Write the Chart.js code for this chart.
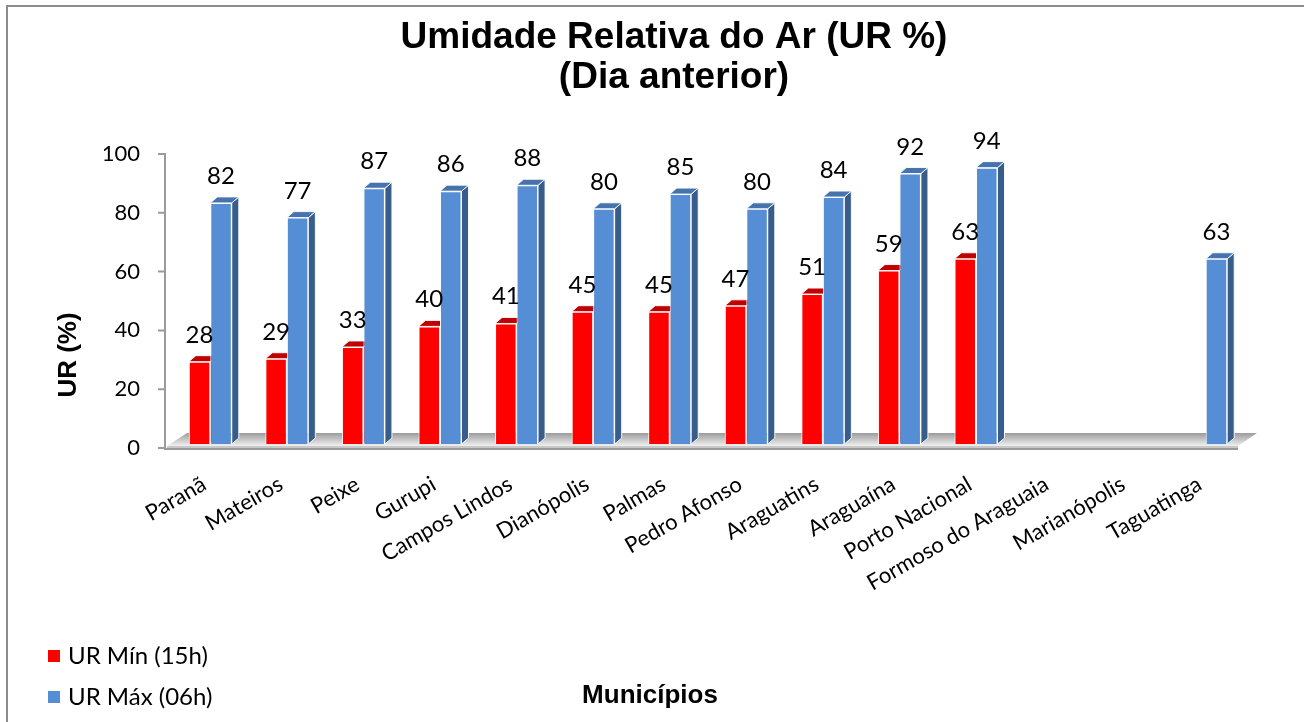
<!DOCTYPE html>
<html lang="pt-BR">
<head>
<meta charset="utf-8">
<title>Umidade Relativa do Ar</title>
<script src="https://cdn.jsdelivr.net/npm/chart.js@4.4.1/dist/chart.umd.min.js"></script>
<style>
  html, body { margin: 0; padding: 0; background: #fff; }
  #grafico { display: block; }
</style>
</head>
<body>
<canvas id="grafico" width="1304" height="722"></canvas>
<script>
// Dados do gráfico
const municipios = ['Paranã', 'Mateiros', 'Peixe', 'Gurupi', 'Campos Lindos', 'Dianópolis', 'Palmas',
    'Pedro Afonso', 'Araguatins', 'Araguaína', 'Porto Nacional', 'Formoso do Araguaia', 'Marianópolis', 'Taguatinga'];
const urMin = [28, 29, 33, 40, 41, 45, 45, 47, 51, 59, 63, null, null, null];
const urMax = [82, 77, 87, 86, 88, 80, 85, 80, 84, 92, 94, null, null, 63];
const ticksY = [0, 20, 40, 60, 80, 100];

// Cores e profundidade do efeito 3D
const corBorda = '#8c8c8c';
const corEixo = '#9a9a9a';
const prof = { dx: 7, dy: 6 };
const fonteTexto = 'Lato, "Open Sans", sans-serif';
const fonteTitulo = '"Liberation Sans", Arial, sans-serif';

const efeito3D = {
    id: 'efeito3D',
    beforeDraw(chart) {
        const ctx = chart.ctx;
        ctx.save();
        ctx.fillStyle = '#fff';
        ctx.fillRect(0, 0, chart.width, chart.height);
        // moldura (só esquerda e topo aparecem)
        ctx.fillStyle = corBorda;
        ctx.fillRect(6, 5, 2, chart.height);
        ctx.fillRect(6, 5, chart.width, 2);
        ctx.restore();
    },
    beforeDatasetsDraw(chart) {
        const { ctx, chartArea: a, scales } = chart;
        const L = a.left, R = a.right, B = a.bottom;
        ctx.save();

        // piso
        const g = ctx.createLinearGradient(0, B - 11, 0, B + 2);
        g.addColorStop(0, '#9c9c9c');
        g.addColorStop(1, '#f0f0f0');
        ctx.fillStyle = g;
        ctx.beginPath();
        ctx.moveTo(L - 5, B + 2);
        ctx.lineTo(R - 6, B + 2);
        ctx.lineTo(R + 13, B - 11);
        ctx.lineTo(L + 15, B - 11);
        ctx.closePath();
        ctx.fill();
        ctx.fillStyle = '#c8c8c8';
        ctx.fillRect(L - 5, B + 2, R - L - 1, 3);

        // eixos
        ctx.strokeStyle = corEixo;
        ctx.lineWidth = 2;
        ctx.beginPath();
        ctx.moveTo(L - 7, scales.y.getPixelForValue(100) + 3);
        ctx.lineTo(L - 7, B + 5);
        ctx.lineTo(R - 6, B + 5);
        ticksY.forEach(v => {
            const py = scales.y.getPixelForValue(v) + 4;
            ctx.moveTo(L - 14, py);
            ctx.lineTo(L - 7, py);
        });
        ctx.stroke();

        // topo e lateral das barras
        ctx.strokeStyle = 'rgba(255,255,255,0.9)';
        ctx.lineWidth = 1;
        chart.data.datasets.forEach((ds, i) => {
            chart.getDatasetMeta(i).data.forEach((bar, j) => {
                if (ds.data[j] == null) return;
                const x0 = bar.x - bar.width / 2, x1 = bar.x + bar.width / 2;
                const t = bar.y, b = bar.base;
                ctx.fillStyle = ds.corLado;
                ctx.beginPath();
                ctx.moveTo(x1, t);
                ctx.lineTo(x1 + prof.dx, t - prof.dy);
                ctx.lineTo(x1 + prof.dx, b - prof.dy);
                ctx.lineTo(x1, b);
                ctx.closePath();
                ctx.fill();
                ctx.stroke();
                ctx.fillStyle = ds.corTopo;
                ctx.beginPath();
                ctx.moveTo(x0, t);
                ctx.lineTo(x1, t);
                ctx.lineTo(x1 + prof.dx, t - prof.dy);
                ctx.lineTo(x0 + prof.dx, t - prof.dy);
                ctx.closePath();
                ctx.fill();
                ctx.stroke();
            });
        });
        ctx.restore();
    },
    afterDatasetsDraw(chart) {
        const ctx = chart.ctx;
        ctx.save();
        ctx.font = '24px ' + fonteTexto;
        ctx.fillStyle = '#000';
        ctx.textAlign = 'center';
        ctx.textBaseline = 'alphabetic';
        chart.data.datasets.forEach((ds, i) => {
            chart.getDatasetMeta(i).data.forEach((bar, j) => {
                const v = ds.data[j];
                if (v == null) return;
                ctx.fillText(String(v), bar.x, bar.y - 19);
            });
        });
        ctx.restore();
    },
    afterDraw(chart) {
        const ctx = chart.ctx;
        ctx.save();
        // legenda
        ctx.font = '24px ' + fonteTexto;
        ctx.textAlign = 'left';
        ctx.textBaseline = 'middle';
        chart.data.datasets.forEach((ds, i) => {
            const cy = 656 + i * 41;
            ctx.fillStyle = ds.backgroundColor;
            ctx.fillRect(48, cy - 6, 12, 12);
            ctx.fillStyle = '#000';
            ctx.fillText(ds.label, 68, cy);
        });
        // títulos dos eixos
        ctx.font = 'bold 26px ' + fonteTitulo;
        ctx.textAlign = 'center';
        ctx.textBaseline = 'alphabetic';
        ctx.fillText('Municípios', 650, 703);
        ctx.translate(69, 355);
        ctx.rotate(-Math.PI / 2);
        ctx.textBaseline = 'middle';
        ctx.fillText('UR (%)', 0, 0);
        ctx.restore();
    }
};

const ctx = document.getElementById('grafico').getContext('2d');
const grafico = new Chart(ctx, {
    type: 'bar',
    data: {
        labels: municipios,
        datasets: [
            {
                label: 'UR Mín (15h)',
                data: urMin,
                backgroundColor: '#FF0000',
                borderColor: '#FFFFFF',
                borderWidth: 1,
                corTopo: '#C00000',
                corLado: '#A00000'
            },
            {
                label: 'UR Máx (06h)',
                data: urMax,
                backgroundColor: '#558ED5',
                borderColor: '#FFFFFF',
                borderWidth: 1,
                corTopo: '#4672AE',
                corLado: '#385D8A'
            }
        ]
    },
    options: {
        responsive: false,
        animation: false,
        events: [],
        layout: { padding: { left: 104, right: 60, top: 0, bottom: 118 } },
        datasets: {
            bar: { categoryPercentage: 0.5616, barPercentage: 1 }
        },
        plugins: {
            legend: { display: false },
            tooltip: { enabled: false },
            title: {
                display: true,
                text: ['Umidade Relativa do Ar (UR %)', '(Dia anterior)'],
                color: '#000',
                font: { family: fonteTitulo, size: 37, weight: 'bold', lineHeight: 40 / 37 },
                padding: { top: 18, bottom: 52 }
            }
        },
        scales: {
            x: {
                grid: { display: false, drawTicks: false },
                border: { display: false },
                ticks: {
                    autoSkip: false,
                    minRotation: 30,
                    maxRotation: 30,
                    padding: 27,
                    labelOffset: -6,
                    color: '#000',
                    font: { family: fonteTexto, size: 22 }
                },
                afterFit(scale) { scale.height = 160; }
            },
            y: {
                min: 0,
                max: 100,
                grid: { display: false, drawTicks: false },
                border: { display: false },
                ticks: {
                    padding: 32,
                    labelOffset: 4,
                    color: '#000',
                    font: { family: fonteTexto, size: 22 }
                },
                afterBuildTicks(scale) { scale.ticks = ticksY.map(v => ({ value: v })); },
                afterFit(scale) { scale.width = 68; }
            }
        }
    },
    plugins: [efeito3D]
});
</script>
</body>
</html>
